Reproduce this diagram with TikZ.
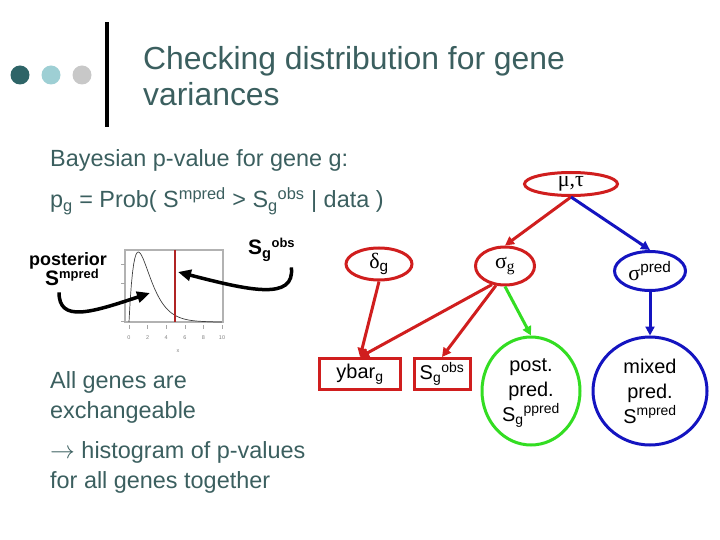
\documentclass[tikz,border=0pt]{standalone}
\usepackage{fontspec}
\setmainfont{Liberation Sans}
\newfontfamily\grk{Liberation Serif}
\usetikzlibrary{positioning,arrows.meta,shapes.geometric}
\definecolor{ttl}{HTML}{3B5F5F}
\definecolor{dotA}{HTML}{2E6467}
\definecolor{dotB}{HTML}{9ECFD4}
\definecolor{dotC}{HTML}{C8C8C8}
\definecolor{redE}{HTML}{D01E1E}
\definecolor{grnE}{HTML}{33DD22}
\definecolor{bluE}{HTML}{1414C0}
\definecolor{obsline}{HTML}{B02424}

\begin{document}
\begin{tikzpicture}[x=1bp, y=-1bp,
  txt/.style={anchor=base west, inner sep=0pt, text=ttl, align=left, font=\fontsize{23.5}{29.5}\selectfont},
  lbl/.style={anchor=base west, inner sep=0pt, font=\bfseries\fontsize{18}{22}\selectfont},
  ell/.style={ellipse, draw, line width=3bp, inner sep=0pt, align=center, font=\grk\fontsize{22}{24}\selectfont},
  obsbox/.style={rectangle, draw=redE, line width=3bp, minimum height=31bp, inner sep=0pt, font=\fontsize{20}{24}\selectfont},
  big/.style={ellipse, draw, line width=3bp, inner sep=0pt, align=center, font=\fontsize{20}{25}\selectfont},
  edge/.style={line width=3bp, -{Triangle[length=9bp,width=9bp]}},
  bigarr/.style={line width=3.5bp, -{Triangle[length=13bp,width=11bp]}},
  tick/.style={inner sep=0pt, text=gray, font=\fontsize{5.5}{6}\selectfont}]
\useasboundingbox (0,0) rectangle (720,540);
% title
\fill[dotA] (20,75) circle[radius=9.5bp];
\fill[dotB] (51,75) circle[radius=9.5bp];
\fill[dotC] (82,75) circle[radius=9.5bp];
\fill (105,22) rectangle (109,127);
\node[anchor=base west, inner sep=0pt, text=ttl, align=left, font=\fontsize{32}{37}\selectfont] (title) at (143,106) {Checking distribution for gene\\variances};
% p-value
\node[txt] (bayes) at (50,167) {Bayesian p-value for gene g:};
\node[txt] (pform) at (50,208) {p\textsubscript{g} = Prob( S\textsuperscript{mpred} > S\textsubscript{g}\textsuperscript{obs} | data )};
% small plot
\draw[gray!60, line width=1.5bp] (125,250) rectangle (223,322);
\foreach \y in {264,283,321} \draw[gray!70] (121,\y) -- (125,\y);
\foreach \t/\x in {0/129, 2/147.6, 4/166.2, 6/184.8, 8/203.4, 10/222} {
  \draw[gray!70] (\x,325) -- (\x,329);
  \node[tick] at (\x,338) {\t};
}
\node[tick] (xlab) at (178,351) {x};
\draw[black!75, line width=0.7bp] plot[domain=0:10, samples=80] ({129+9.3*\x},{322-70*\x*exp(-\x)/0.3679});
\draw[obsline, line width=1.2bp] (175,250) -- (175,322);
\coordinate (crvpt) at (150,293);
\coordinate (redpt) at (178,272);
% labels on the plot
\node[lbl] (postlab) at (29,266) {posterior};
\node[lbl, font=\bfseries\fontsize{21}{24}\selectfont] (smp) at (45,286) {S\textsuperscript{\fontsize{13}{14}\selectfont mpred}};
\node[lbl, font=\bfseries\fontsize{21}{24}\selectfont] (sobslab) at (248,255) {S\textsubscript{g}\textsuperscript{\fontsize{13}{14}\selectfont obs}};
\draw[bigarr] ([xshift=14bp, yshift=-6bp]smp.south west) .. controls +(0,30) and +(-60,20) .. (crvpt);
\draw[bigarr] ([xshift=-4bp, yshift=-6bp]sobslab.south east) .. controls +(4,34) and +(70,18) .. (redpt);
% left text
\node[txt] (exch) at (50,418) {All genes are\\exchangeable};
\node[txt] (hist) at (50,488) {$\rightarrow$ histogram of p-values\\for all genes together};
% graph
\node[ell, draw=redE, minimum width=93bp, minimum height=23bp] (mt) at (571,184) {μ,τ};
\node[ell, draw=redE, minimum width=66bp, minimum height=32bp] (dg) at (379,264) {δ\textsubscript{\normalfont g}};
\node[ell, draw=redE, minimum width=59bp, minimum height=38bp] (sg) at (505,266) {σ\textsubscript{g}};
\node[ell, draw=bluE, minimum width=71bp, minimum height=39bp] (sp) at (650,271) {σ\textsuperscript{\normalfont pred}};
\node[obsbox, minimum width=81bp] (yb) at (360,374) {ybar\textsubscript{g}};
\node[obsbox, minimum width=56bp] (so) at (442,374) {S\textsubscript{g}\textsuperscript{obs}};
\node[big, draw=grnE, minimum width=98bp, minimum height=108bp, text depth=2bp] (pp) at (531,391) {post.\\pred.\\S\textsubscript{g}\textsuperscript{ppred}};
\node[big, draw=bluE, minimum width=114bp, minimum height=108bp] (mp) at (650,391) {mixed\\pred.\\S\textsuperscript{mpred}};
\draw[edge, redE] (mt.south) -- (sg.north);
\draw[edge, bluE] (mt.south) -- (sp.north);
\draw[edge, redE] (dg.south) -- (yb.north);
\draw[edge, redE] (sg.235) -- (yb.north);
\draw[edge, redE] (sg.245) -- (so.north);
\draw[edge, grnE] (sg.south) -- (pp.north);
\draw[edge, bluE] (sp.south) -- (mp.north);
\end{tikzpicture}
\end{document}
